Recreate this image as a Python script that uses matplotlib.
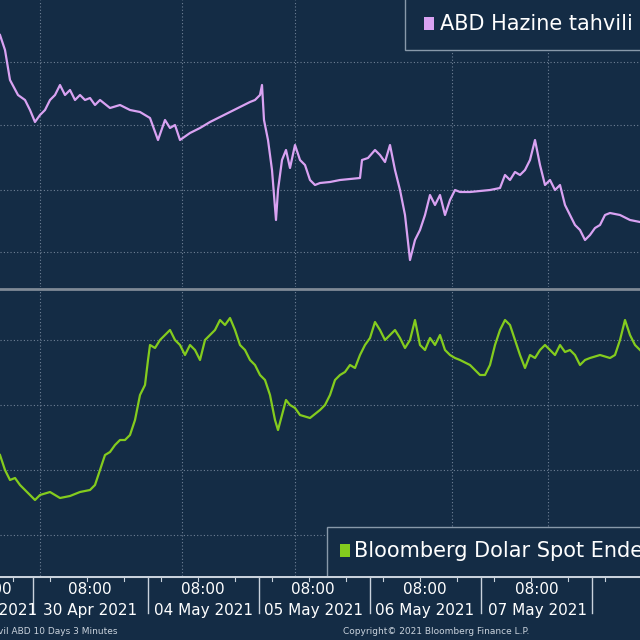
import matplotlib
matplotlib.use("Agg")
import matplotlib.pyplot as plt
from matplotlib.patches import Rectangle

BG = "#142c45"
PURPLE = "#d9a2f2"
GREEN = "#84cc1e"

# x positions (chart columns), y values in screen units (higher = lower on screen)
ust_x = [0, 5, 10, 18, 25, 30, 35, 40, 45, 50, 55, 60, 65, 70, 75, 80, 85, 90, 95, 100, 110, 120, 130, 140, 150,
         158, 165, 170, 175, 180, 190, 200, 210, 220, 230, 240, 250, 255, 260, 262, 264, 268, 272, 276, 278, 282,
         286, 290, 295, 300, 305, 310, 315, 320, 330, 340, 350, 360, 362, 368, 375, 380, 385, 390, 395, 400, 405,
         410, 415, 420, 425, 430, 435, 440, 445, 450, 455, 460, 470, 480, 490, 500, 505, 510, 515, 520, 525, 530,
         535, 540, 545, 550, 555, 560, 565, 570, 575, 580, 585, 590, 595, 600, 605, 610, 620, 630, 640]
ust_y = [35, 50, 80, 95, 100, 110, 122, 115, 110, 100, 95, 85, 95, 90, 100, 95, 100, 98, 105, 100, 108, 105, 110,
         112, 118, 140, 120, 128, 125, 140, 133, 128, 122, 117, 112, 107, 102, 100, 95, 85, 120, 140, 170, 220, 190,
         160, 150, 168, 145, 160, 165, 180, 185, 183, 182, 180, 179, 178, 160, 158, 150, 155, 162, 145, 170, 190,
         215, 260, 240, 230, 215, 195, 205, 195, 215, 200, 190, 192, 192, 191, 190, 188, 175, 180, 172, 175, 170,
         160, 140, 165, 185, 180, 190, 185, 205, 215, 225, 230, 240, 235, 228, 225, 215, 213, 215, 220, 222]

dxy_x = [0, 5, 10, 15, 20, 25, 30, 35, 40, 50, 60, 70, 80, 90, 95, 100, 105, 110, 115, 120, 125, 130, 135, 140,
         145, 148, 150, 155, 160, 165, 170, 175, 180, 185, 190, 195, 200, 205, 210, 215, 220, 225, 230, 235, 240,
         245, 250, 255, 260, 265, 270, 275, 278, 282, 286, 290, 295, 300, 310, 320, 325, 330, 335, 340, 345, 350,
         355, 360, 365, 370, 375, 380, 385, 390, 395, 400, 405, 410, 415, 420, 425, 430, 435, 440, 445, 450, 455,
         460, 470, 480, 485, 490, 495, 500, 505, 510, 515, 520, 525, 530, 535, 540, 545, 550, 555, 560, 565, 570,
         575, 580, 585, 590, 600, 610, 615, 620, 625, 630, 635, 640]
dxy_y = [455, 470, 480, 478, 485, 490, 495, 500, 495, 492, 498, 496, 492, 490, 485, 470, 455, 452, 445, 440, 440,
         435, 420, 395, 385, 360, 345, 348, 340, 335, 330, 340, 345, 355, 345, 350, 360, 340, 335, 330, 320, 325,
         318, 330, 345, 350, 360, 365, 375, 380, 395, 420, 430, 415, 400, 405, 408, 415, 418, 410, 405, 395, 380,
         375, 372, 365, 368, 355, 345, 338, 322, 330, 340, 335, 330, 338, 348, 340, 320, 345, 350, 338, 345, 335,
         350, 355, 358, 360, 365, 375, 375, 365, 345, 330, 320, 325, 340, 355, 368, 355, 358, 350, 345, 350, 355,
         345, 352, 350, 355, 365, 360, 358, 355, 358, 355, 340, 320, 335, 345, 350]

day_lines = [33, 148, 259, 370, 481, 592]
label_x = [-10, 90, 203, 313, 425, 537]
label_day = ["29 Apr 2021", "30 Apr 2021", "04 May 2021", "05 May 2021", "06 May 2021", "07 May 2021"]
grid_x = [40, 182, 295, 452, 548]

fig = plt.figure(figsize=(6.4, 6.4), dpi=100, facecolor=BG)
W, H = 640, 640

def panel(top, bottom):
    ax = fig.add_axes([0, 1 - bottom / H, 1, (bottom - top) / H])
    ax.set_facecolor(BG)
    ax.set_xlim(0, W)
    ax.set_ylim(bottom, top)
    ax.set_xticks([])
    ax.set_yticks([])
    for s in ax.spines.values():
        s.set_visible(False)
    for gx in grid_x:
        ax.axvline(gx, color="#6f8196", lw=0.8, ls=(0, (1, 2)), zorder=1)
    return ax

ax1 = panel(0, 287)
for gy in [62, 125, 190, 252]:
    ax1.axhline(gy, color="#6f8196", lw=0.8, ls=(0, (1, 2)), zorder=1)
ax1.plot(ust_x, ust_y, color=PURPLE, lw=1.6, zorder=3)
ax1.add_patch(Rectangle((405, -2), 250, 52, fc=BG, ec="#8899aa", lw=1, zorder=4))
ax1.add_patch(Rectangle((424, 17), 10, 13, fc=PURPLE, ec="none", zorder=5))
ax1.text(440, 24, "ABD Hazine tahvili", color="white", fontsize=15, va="center", zorder=5, clip_on=True)

ax2 = panel(290, 576)
for gy in [340, 405, 470, 535]:
    ax2.axhline(gy, color="#6f8196", lw=0.8, ls=(0, (1, 2)), zorder=1)
ax2.plot(dxy_x, dxy_y, color=GREEN, lw=1.6, zorder=3)
ax2.add_patch(Rectangle((327, 527), 330, 52, fc=BG, ec="#8899aa", lw=1, zorder=4))
ax2.add_patch(Rectangle((340, 544), 10, 13, fc=GREEN, ec="none", zorder=5))
ax2.text(354, 551, "Bloomberg Dolar Spot Endeksi", color="white", fontsize=15, va="center", zorder=5, clip_on=True)

# separator between panels
fig.add_artist(plt.Line2D([0, 1], [1 - 288.5 / H] * 2, color="#7f8a96", lw=2))

# time axis
axt = fig.add_axes([0, 0, 1, 1 - 576 / H])
axt.set_facecolor(BG)
axt.set_xlim(0, W)
axt.set_ylim(640, 576)
axt.axis("off")
axt.axhline(577, color="#c9d2dc", lw=1.5)
for dx in day_lines:
    axt.plot([dx, dx], [577, 613], color="#c9d2dc", lw=1)
for tx in range(13, 640, 37):
    axt.plot([tx, tx], [577, 581], color="#c9d2dc", lw=0.8)
for lx, ld in zip(label_x, label_day):
    axt.text(lx, 590, "08:00", color="white", fontsize=11, ha="center", va="center", clip_on=True)
    axt.text(lx, 610, ld, color="white", fontsize=11, ha="center", va="center", clip_on=True)
axt.text(-2, 632, "vil ABD 10 Days 3 Minutes", color="#c9d2dc", fontsize=6.5, va="center", clip_on=True)
axt.text(343, 632, "Copyright© 2021 Bloomberg Finance L.P.", color="#c9d2dc", fontsize=6.5, va="center")

fig.savefig("out.png", dpi=100, facecolor=BG)
